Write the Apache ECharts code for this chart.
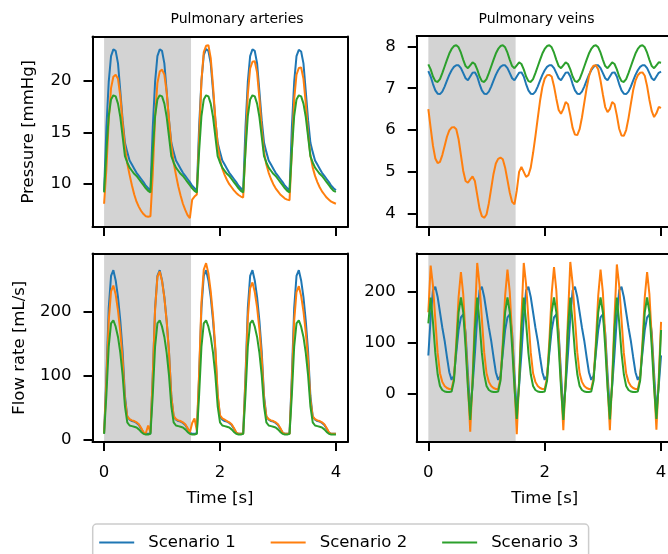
<!DOCTYPE html>
<html><head><meta charset="utf-8">
<script src="https://cdn.jsdelivr.net/npm/echarts@6/dist/echarts.min.js"></script>
<style>html,body{margin:0;padding:0;background:#fff}#c{width:668px;height:554px}</style>
</head><body><div id="c"></div>
<script>
const FONT = 'DejaVu Sans';

// time samples [s]
const time = [
0,0.04,0.08,0.12,0.16,0.2,0.24,0.28,0.32,0.36,0.4,0.44,0.48,0.52,0.56,0.6,0.64,0.68,0.72,0.76,
0.8,0.84,0.88,0.92,0.96,1,1.04,1.08,1.12,1.16,1.2,1.24,1.28,1.32,1.36,1.4,1.44,1.48,1.52,1.56,
1.6,1.64,1.68,1.72,1.76,1.8,1.84,1.88,1.92,1.96,2,2.04,2.08,2.12,2.16,2.2,2.24,2.28,2.32,2.36,
2.4,2.44,2.48,2.52,2.56,2.6,2.64,2.68,2.72,2.76,2.8,2.84,2.88,2.92,2.96,3,3.04,3.08,3.12,3.16,
3.2,3.24,3.28,3.32,3.36,3.4,3.44,3.48,3.52,3.56,3.6,3.64,3.68,3.72,3.76,3.8,3.84,3.88,3.92,3.96,
4];

// Pulmonary arteries - pressure [mmHg]
const paPressure1 = [
9.3,15.5,19.9,22.4,23.05,22.9,21.7,19.0,16.2,14.0,13.1,12.3,11.9,11.5,11.1,10.8,10.5,10.2,9.85,9.6,
9.35,15.5,19.9,22.4,23.05,22.9,21.7,19.0,16.2,14.0,13.1,12.3,11.9,11.5,11.1,10.8,10.5,10.2,9.85,9.6,
9.35,15.6,20.0,22.5,23.1,22.9,21.7,19.0,16.2,14.0,13.1,12.3,11.9,11.5,11.1,10.8,10.5,10.2,9.85,9.6,
9.35,15.5,19.9,22.4,23.05,22.9,21.7,19.0,16.2,14.0,13.1,12.3,11.9,11.5,11.1,10.8,10.5,10.2,9.85,9.6,
9.35,15.5,19.9,22.4,23.0,22.85,21.7,19.0,16.2,14.0,13.1,12.3,11.9,11.5,11.1,10.8,10.5,10.2,9.85,9.6,
9.4];
const paPressure2 = [
8.1,11.5,16.2,19.3,20.4,20.6,20.2,18.5,15.9,13.6,12.0,10.9,9.9,9.0,8.3,7.8,7.4,7.1,6.9,6.85,
6.9,11.0,16.5,19.8,20.9,21.1,20.6,18.9,16.2,13.8,12.1,10.9,9.8,8.9,8.1,7.5,7.0,6.7,8.5,8.8,
9.0,14.5,20.0,22.8,23.4,23.45,22.2,19.5,16.3,13.8,12.4,11.5,10.9,10.4,10.0,9.7,9.4,9.15,8.95,8.8,
8.7,13.5,18.7,21.2,21.85,21.9,20.8,18.3,15.3,13.1,11.9,11.1,10.5,10.0,9.6,9.3,9.0,8.8,8.6,8.5,
8.45,13.2,18.2,20.6,21.25,21.3,20.2,17.8,14.9,12.8,11.6,10.8,10.2,9.7,9.3,9.0,8.7,8.5,8.3,8.2,
8.1];
const paPressure3 = [
9.2,13.2,16.6,18.2,18.6,18.5,17.8,16.5,14.6,12.7,12.1,11.6,11.3,11.0,10.8,10.5,10.2,9.9,9.6,9.35,
9.2,13.2,16.6,18.2,18.6,18.5,17.8,16.5,14.6,12.7,12.1,11.6,11.3,11.0,10.8,10.5,10.2,9.9,9.6,9.35,
9.2,13.2,16.6,18.2,18.6,18.5,17.8,16.5,14.6,12.7,12.1,11.6,11.3,11.0,10.8,10.5,10.2,9.9,9.6,9.35,
9.2,13.2,16.6,18.2,18.6,18.5,17.8,16.5,14.6,12.7,12.1,11.6,11.3,11.0,10.8,10.5,10.2,9.9,9.6,9.35,
9.2,13.2,16.6,18.2,18.6,18.5,17.8,16.5,14.6,12.7,12.1,11.6,11.3,11.0,10.8,10.5,10.2,9.9,9.6,9.35,
9.25];

// Pulmonary arteries - flow rate [mL/s]
const paFlow1 = [
10,100,205,255,264,248,222,185,137,68,36,31,29,28,26,23,17,11,9,9,
10,100,205,255,264,248,222,185,137,68,36,31,29,28,26,23,17,11,9,9,
10,100,205,255,264,248,222,185,137,68,36,31,29,28,26,23,17,11,9,9,
10,100,205,255,264,248,222,185,137,68,36,31,29,28,26,23,17,11,9,9,
10,100,205,255,264,248,222,185,137,68,36,31,29,28,26,23,17,11,9,9,
9];
const paFlow2 = [
10,90,185,231,240,226,201,168,124,62,36,32,30,29,27,24,18,11,10,22,
11,99,203,253,262,247,221,184,136,67,37,32,30,29,27,24,18,11,26,33,
14,104,214,265,275,259,231,193,143,71,38,33,31,29,27,24,18,11,9,9,
9,93,190,236,245,230,206,172,127,63,36,32,30,29,27,24,18,11,9,9,
9,90,185,230,239,224,200,167,124,62,36,32,30,29,27,24,18,11,9,9,
9];
const paFlow3 = [
9,70,145,181,186,176,160,135,100,52,27,22,21,20,19,16,12,9,8,8,
9,70,145,181,186,176,160,135,100,52,27,22,21,20,19,16,12,9,8,8,
9,70,145,181,186,176,160,135,100,52,27,22,21,20,19,16,12,9,8,8,
9,70,145,181,186,176,160,135,100,52,27,22,21,20,19,16,12,9,8,8,
9,70,145,181,186,176,160,135,100,52,27,22,21,20,19,16,12,9,8,8,
8];

// Pulmonary veins - pressure [mmHg]
const pvPressure1 = [
7.41,7.28,7.10,6.95,6.87,6.86,6.92,7.04,7.18,7.32,7.43,7.51,7.55,7.55,7.48,7.36,7.24,7.19,7.28,7.37,
7.38,7.28,7.10,6.95,6.87,6.86,6.92,7.04,7.18,7.32,7.43,7.51,7.55,7.55,7.48,7.36,7.24,7.19,7.28,7.37,
7.38,7.28,7.10,6.95,6.87,6.86,6.92,7.04,7.18,7.32,7.43,7.51,7.55,7.55,7.48,7.36,7.24,7.19,7.28,7.37,
7.38,7.28,7.10,6.95,6.87,6.86,6.92,7.04,7.18,7.32,7.43,7.51,7.55,7.55,7.48,7.36,7.24,7.19,7.28,7.37,
7.38,7.28,7.10,6.95,6.87,6.86,6.92,7.04,7.18,7.32,7.43,7.51,7.55,7.55,7.48,7.36,7.24,7.19,7.28,7.37,
7.40];
const pvPressure2 = [
6.50,6.05,5.62,5.32,5.21,5.24,5.40,5.62,5.84,5.99,6.06,6.07,6.02,5.78,5.40,5.02,4.78,4.74,4.82,4.89,
4.78,4.45,4.12,3.94,3.90,3.98,4.25,4.60,4.95,5.20,5.31,5.34,5.30,5.10,4.80,4.50,4.28,4.22,4.55,5.00,
5.12,5.00,4.88,4.92,5.10,5.45,5.85,6.28,6.70,7.03,7.23,7.31,7.32,7.28,7.05,6.75,6.48,6.39,6.50,6.67,
6.62,6.35,6.05,5.89,5.88,6.02,6.30,6.65,7.00,7.28,7.46,7.54,7.55,7.45,7.18,6.85,6.55,6.43,6.50,6.67,
6.62,6.35,6.03,5.87,5.86,6.00,6.28,6.62,6.95,7.18,7.31,7.37,7.38,7.30,7.05,6.72,6.45,6.31,6.40,6.55,
6.53];
const pvPressure3 = [
7.57,7.45,7.28,7.17,7.15,7.22,7.36,7.52,7.68,7.83,7.94,8.01,8.03,7.98,7.85,7.68,7.53,7.48,7.55,7.62,
7.58,7.45,7.28,7.17,7.15,7.22,7.36,7.52,7.68,7.83,7.94,8.01,8.03,7.98,7.85,7.68,7.53,7.48,7.55,7.62,
7.58,7.45,7.28,7.17,7.15,7.22,7.36,7.52,7.68,7.83,7.94,8.01,8.03,7.98,7.85,7.68,7.53,7.48,7.55,7.62,
7.58,7.45,7.28,7.17,7.15,7.22,7.36,7.52,7.68,7.83,7.94,8.01,8.03,7.98,7.85,7.68,7.53,7.48,7.55,7.62,
7.58,7.45,7.28,7.17,7.15,7.22,7.36,7.52,7.68,7.83,7.94,8.01,8.03,7.98,7.85,7.68,7.53,7.48,7.55,7.62,
7.61];

// Pulmonary veins - flow rate [mL/s]
const pvFlow1 = [
75,150,203,210,190,160,130,104,72,42,27,35,80,125,150,156,120,40,-35,15,
78,150,203,210,190,160,130,104,72,42,27,35,80,125,150,156,120,40,-35,15,
78,150,203,210,190,160,130,104,72,42,27,35,80,125,150,156,120,40,-35,15,
78,150,203,210,190,160,130,104,72,42,27,35,80,125,150,156,120,40,-35,15,
78,150,203,210,190,160,130,104,72,42,27,35,80,125,150,156,120,40,-35,15,
75];
const pvFlow2 = [
160,252,212,145,80,40,23,15,11,9,9,30,100,190,239,195,110,20,-75,30,
150,257,215,147,81,40,23,15,11,9,9,30,102,193,244,199,112,21,-80,28,
150,257,215,147,81,40,23,15,11,9,9,31,104,197,249,203,114,22,-72,30,
150,259,216,148,81,40,23,15,11,9,9,30,102,193,244,199,112,21,-72,30,
150,254,213,146,80,40,23,15,11,9,9,30,100,190,239,195,110,20,-71,30,
141];
const pvFlow3 = [
138,189,140,80,38,15,7,4,3,3,4,25,90,160,189,160,92,12,-52,20,
128,189,140,80,38,15,7,4,3,3,4,25,90,160,189,160,92,12,-50,20,
128,189,140,80,38,15,7,4,3,3,4,25,90,160,189,160,92,12,-52,20,
128,189,140,80,38,15,7,4,3,3,4,25,90,160,189,160,92,12,-51,20,
128,189,140,80,38,15,7,4,3,3,4,25,90,160,189,160,92,12,-50,20,
125];

const scenarioNames = ['Scenario 1','Scenario 2','Scenario 3'];
const colors = ['#1f77b4','#ff7f0e','#2ca02c'];
const xTicks = [0, 2, 4];
const shadeRange = [0, 1.5];

const panels = [
  {grid:{left:92.5, top:36.5, width:255, height:190.5}, yMin:5.85, yMax:24.3, yTicks:[10,15,20],
   yName:'Pressure [mmHg]', nameGap:55, bottom:false, data:[paPressure1,paPressure2,paPressure3]},
  {grid:{left:416.7, top:36, width:256, height:191}, yMin:3.68, yMax:8.25, yTicks:[4,5,6,7,8],
   yName:'', nameGap:0, bottom:false, data:[pvPressure1,pvPressure2,pvPressure3]},
  {grid:{left:92.5, top:253.5, width:255, height:188.5}, yMin:-3.7, yMax:290, yTicks:[0,100,200],
   yName:'Flow rate [mL/s]', nameGap:64, bottom:true, data:[paFlow1,paFlow2,paFlow3]},
  {grid:{left:416.7, top:253.5, width:256, height:188.5}, yMin:-95.3, yMax:275.6, yTicks:[0,100,200],
   yName:'', nameGap:0, bottom:true, data:[pvFlow1,pvFlow2,pvFlow3]}
];

const txt = {fontFamily:FONT, fontSize:16.5, color:'#000'};
const lineBlack = {color:'#000', width:2};
const grids = [], xAxes = [], yAxes = [], series = [];

panels.forEach((p, i) => {
  grids.push(Object.assign({show:true, backgroundColor:'#fff', borderWidth:0,
    containLabel:false, outerBoundsMode:'none'}, p.grid));
  xAxes[i] = {type:'value', gridIndex:i, min:-0.2, max:4.2, position:'bottom', z:5,
    axisLine:{show:true, onZero:false, lineStyle:lineBlack},
    axisTick:{show:true, customValues:xTicks, length:9, lineStyle:lineBlack},
    axisLabel:{show:p.bottom, customValues:xTicks, margin:22, ...txt},
    splitLine:{show:false},
    name:p.bottom ? 'Time [s]' : '', nameLocation:'middle', nameGap:48, nameTextStyle:txt};
  xAxes[i+4] = {type:'value', gridIndex:i, min:-0.2, max:4.2, position:'top', z:5,
    axisLine:{show:true, onZero:false, lineStyle:lineBlack},
    axisTick:{show:false}, axisLabel:{show:false}, splitLine:{show:false}};
  yAxes[i] = {type:'value', gridIndex:i, min:p.yMin, max:p.yMax, position:'left', z:5,
    axisLine:{show:true, onZero:false, lineStyle:lineBlack},
    axisTick:{show:true, customValues:p.yTicks, length:9, lineStyle:lineBlack},
    axisLabel:{show:true, customValues:p.yTicks, margin:21, ...txt},
    splitLine:{show:false},
    name:p.yName, nameLocation:'middle', nameRotate:90, nameGap:p.nameGap, nameTextStyle:txt};
  yAxes[i+4] = {type:'value', gridIndex:i, min:p.yMin, max:p.yMax, position:'right', z:5,
    axisLine:{show:true, onZero:false, lineStyle:lineBlack},
    axisTick:{show:false}, axisLabel:{show:false}, splitLine:{show:false}};
  series.push({type:'line', name:'shade', xAxisIndex:i, yAxisIndex:i, data:[], silent:true,
    markArea:{silent:true, itemStyle:{color:'#d3d3d3'}, label:{show:false},
      data:[[{xAxis:shadeRange[0]},{xAxis:shadeRange[1]}]]}});
  p.data.forEach((arr, s) => {
    series.push({type:'line', name:scenarioNames[s], xAxisIndex:i, yAxisIndex:i,
      data: time.map((t, k) => [t, arr[k]]), showSymbol:false, symbol:'none', smooth:false,
      silent:true, clip:true,
      lineStyle:{color:colors[s], width:2}, itemStyle:{color:colors[s]}});
  });
});

const titleStyle = {fontFamily:FONT, fontSize:14, fontWeight:'normal', color:'#000'};
const chart = echarts.init(document.getElementById('c'), null, {renderer:'canvas'});
chart.setOption({
  animation:false,
  backgroundColor:'#fff',
  textStyle:{fontFamily:FONT},
  title:[
    {text:'Pulmonary arteries', left:232, top:7, textAlign:'center', textStyle:titleStyle},
    {text:'Pulmonary veins', left:531.5, top:7, textAlign:'center', textStyle:titleStyle}
  ],
  legend:{data:scenarioNames, left:92.7, top:524, orient:'horizontal',
    icon:'rect', itemWidth:35, itemHeight:2, itemGap:35,
    padding:[10,10,10,6.5], borderColor:'#cccccc', borderWidth:1.5, borderRadius:4,
    backgroundColor:'#fff', selectedMode:false,
    textStyle:{fontFamily:FONT, fontSize:16.5, color:'#000', padding:[0,0,0,9]}},
  grid:grids, xAxis:xAxes, yAxis:yAxes, series:series
});
</script></body></html>
